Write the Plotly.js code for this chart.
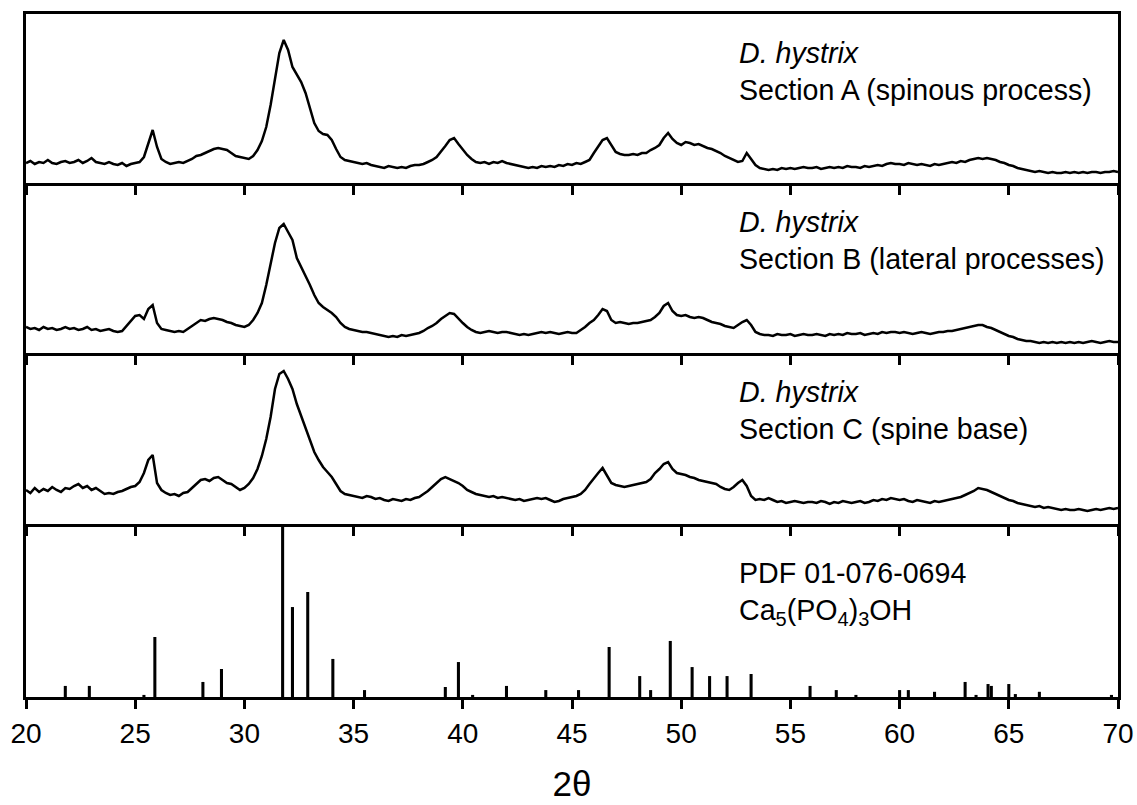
<!DOCTYPE html>
<html>
<head>
<meta charset="utf-8">
<script src="https://cdn.plot.ly/plotly-3.0.1.min.js"></script>
<style>html,body{margin:0;padding:0;background:#fff;}#chart{width:1137px;height:805px;}</style>
</head>
<body>
<div id="chart"></div>
<script>
// 2θ grid: start and step (0.2°) for the measured patterns, 20.0 → 70.0
const twoThetaStart = 20;
const twoThetaStep = 0.2;

// Section A (spinous process) — intensity (arb. units)
const sectionA = [
  20,22,19,21,20,23,20,19,21,22,
  20,21,23,20,22,25,21,20,19,21,
  19,18,20,17,19,20,21,26,40,53,
  36,24,21,19,20,21,20,22,24,27,
  28,30,32,34,35,34,33,30,27,26,
  25,24,27,33,42,56,78,105,130,143,
  133,116,108,101,90,75,60,52,49,48,
  43,34,26,23,22,21,20,19,20,18,
  17,16,15,17,16,15,16,15,17,18,
  18,19,21,23,26,31,37,43,45,39,
  33,28,24,21,20,21,19,21,20,22,
  20,19,18,17,16,15,16,15,17,16,
  17,16,18,17,19,18,20,19,21,23,
  30,37,43,45,38,31,29,28,28,29,
  28,30,30,33,35,38,45,50,44,40,
  38,41,40,38,39,37,35,34,32,30,
  27,25,23,21,22,30,24,18,15,14,
  13,14,13,15,14,15,14,15,16,15,
  15,16,14,15,16,15,16,15,17,16,
  16,15,17,16,17,18,17,19,20,19,
  19,18,20,19,18,19,18,17,19,18,
  19,20,21,20,22,21,23,24,25,24,
  25,24,23,21,20,18,17,15,14,13,
  12,11,12,11,10,11,10,10,11,10,
  11,10,11,10,11,11,10,11,11,12,
  11
];

// Section B (lateral processes)
const sectionB = [
  26,24,25,23,26,24,25,23,24,26,
  24,25,23,24,26,23,24,22,23,24,
  22,21,22,27,33,37,38,34,44,48,
  30,24,23,22,21,22,21,24,27,30,
  33,32,34,35,34,33,31,30,28,27,
  26,28,33,40,50,68,90,110,125,129,
  121,113,95,86,78,68,58,50,46,43,
  40,36,30,26,24,23,22,21,21,20,
  19,18,17,16,17,16,18,17,18,19,
  20,22,25,27,30,34,37,40,39,34,
  30,26,23,21,20,21,22,21,20,21,
  21,20,19,18,19,18,19,20,21,20,
  21,20,19,20,21,20,20,23,26,30,
  33,38,44,42,33,30,31,30,29,30,
  30,31,32,33,36,40,47,50,42,38,
  37,38,36,35,36,35,33,31,30,29,
  27,26,25,28,31,33,28,21,19,18,
  18,17,19,18,18,19,17,18,19,18,
  18,19,18,17,19,18,19,18,20,19,
  19,20,18,19,20,19,21,20,21,21,
  20,21,20,19,20,21,20,19,20,21,
  21,22,22,23,24,25,26,27,28,28,
  26,25,23,21,19,17,16,14,13,12,
  12,11,10,11,10,11,10,11,10,11,
  10,11,10,11,12,11,10,11,12,11,
  11
];

// Section C (spine base)
const sectionC = [
  34,31,36,32,35,33,37,34,32,36,
  35,38,40,36,38,34,36,33,30,31,
  30,32,33,35,37,38,42,51,64,69,
  41,34,31,29,30,28,31,32,36,40,
  44,45,43,46,47,44,41,40,37,34,
  36,40,46,55,68,85,107,135,150,153,
  145,135,120,108,94,84,72,64,57,52,
  47,40,33,30,29,28,27,26,28,27,
  25,26,24,23,25,24,23,25,24,26,
  27,30,33,37,41,45,47,45,43,41,
  38,34,32,30,29,28,27,28,26,27,
  26,25,24,25,23,24,25,26,25,26,
  24,22,23,25,26,27,28,30,34,40,
  46,51,56,48,41,39,38,37,38,39,
  40,41,42,45,51,55,60,62,55,51,
  50,49,47,46,44,43,42,41,40,37,
  35,34,37,41,44,38,28,24,25,24,
  26,24,22,23,21,22,23,22,21,22,
  22,21,23,22,20,22,21,23,22,21,
  22,23,21,22,24,23,25,24,26,25,
  24,25,23,22,24,23,22,21,23,22,
  23,24,25,26,27,29,31,33,36,35,
  34,32,30,28,26,24,23,21,20,19,
  18,17,18,16,17,16,15,14,15,14,
  14,15,14,13,14,15,14,15,16,15,
  16
];

// Reference pattern PDF 01-076-0694 (hydroxyapatite): positions and relative intensities (%)
const pdfPositions = [21.8,22.9,25.4,25.9,28.1,28.95,31.75,32.2,32.9,34.05,35.5,39.2,39.8,40.45,42.0,43.8,45.3,46.7,48.1,48.6,49.5,50.5,51.3,52.1,53.2,55.9,57.1,58.0,60.0,60.4,61.6,63.0,63.5,64.05,64.2,65.0,65.3,66.4,69.7];
const pdfIntensity = [6.4,6.4,1.2,34.7,8.7,16.2,100,52,60.7,22,4,5.8,20.2,1.2,6.4,4,4,28.9,12.1,4,32.4,17.3,12.1,12.1,13.3,6.4,4,1.2,4,4,3,8.7,1.2,7.5,6.4,7.5,1.7,3,1.2];

const labelA = "<i>D. hystrix</i><br>Section A (spinous process)";
const labelB = "<i>D. hystrix</i><br>Section B (lateral processes)";
const labelC = "<i>D. hystrix</i><br>Section C (spine base)";
const labelPDF = "PDF 01-076-0694<br>Ca<sub>5</sub>(PO<sub>4</sub>)<sub>3</sub>OH";
const xTitle = "2θ";

const FONT = "Liberation Sans, Arial, Helvetica, sans-serif";
const lineStyle = {color: "#000", width: 2.5};

const traces = [
  {type: "scatter", mode: "lines", x0: twoThetaStart, dx: twoThetaStep, y: sectionA, xaxis: "x4", yaxis: "y4", line: lineStyle},
  {type: "scatter", mode: "lines", x0: twoThetaStart, dx: twoThetaStep, y: sectionB, xaxis: "x3", yaxis: "y3", line: lineStyle},
  {type: "scatter", mode: "lines", x0: twoThetaStart, dx: twoThetaStep, y: sectionC, xaxis: "x2", yaxis: "y2", line: lineStyle},
  {type: "bar", x: pdfPositions, y: pdfIntensity, width: 0.14, xaxis: "x", yaxis: "y", marker: {color: "#000", line: {width: 0}}}
];

const H = 683;
const dD = [0, 173 / H];
const dC = [173 / H, 344 / H];
const dB = [344 / H, 514 / H];
const dA = [514 / H, 1];

function xa(anchor, showLabels, mirror) {
  return {
    anchor: anchor, range: [20, 70], dtick: 5, tick0: 20,
    showline: true, linecolor: "#000", linewidth: 3, mirror: mirror,
    ticks: "outside", ticklen: 9, tickwidth: 3, tickcolor: "#000",
    showticklabels: showLabels, showgrid: false, zeroline: false,
    tickfont: {family: FONT, size: 28, color: "#000"}
  };
}
function ya(anchor, domain, range) {
  return {
    anchor: anchor, domain: domain, range: range,
    showline: true, linecolor: "#000", linewidth: 3, mirror: true,
    ticks: "", showticklabels: false, showgrid: false, zeroline: false
  };
}

const xaxisD = xa("y", true, false);
xaxisD.title = {text: xTitle, font: {family: FONT, size: 35, color: "#000"}, standoff: 24};

const layout = {
  width: 1137, height: 805,
  margin: {l: 26, r: 19, t: 14, b: 108},
  paper_bgcolor: "#fff", plot_bgcolor: "#fff",
  showlegend: false, hovermode: false,
  font: {family: FONT, color: "#000"},
  xaxis: xaxisD,
  xaxis2: Object.assign(xa("y2", false, false), {matches: "x"}),
  xaxis3: Object.assign(xa("y3", false, false), {matches: "x"}),
  xaxis4: Object.assign(xa("y4", false, true), {matches: "x"}),
  yaxis: ya("x", dD, [0, 100]),
  yaxis2: ya("x2", dC, [0, 171]),
  yaxis3: ya("x3", dB, [0, 170]),
  yaxis4: ya("x4", dA, [0, 169]),
  annotations: [
    {xref: "x4", yref: "y4", x: 52.55, y: 111.5, text: labelA},
    {xref: "x3", yref: "y3", x: 52.55, y: 112.5, text: labelB},
    {xref: "x2", yref: "y2", x: 52.55, y: 113.5, text: labelC},
    {xref: "x", yref: "y", x: 52.55, y: 60, text: labelPDF}
  ].map(a => Object.assign(a, {showarrow: false, xanchor: "left", yanchor: "middle", align: "left", font: {family: FONT, size: 28.6, color: "#000"}}))
};

Plotly.newPlot("chart", traces, layout, {displayModeBar: false, staticPlot: true});
</script>
</body>
</html>
